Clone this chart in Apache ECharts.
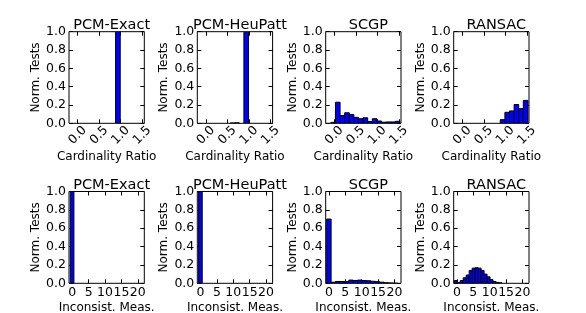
<!DOCTYPE html>
<html><head><meta charset="utf-8">
<script src="https://cdn.jsdelivr.net/npm/echarts@6/dist/echarts.min.js"></script>
<style>html,body{margin:0;padding:0;background:#fff}#c{width:586px;height:313px}</style>
</head><body><div id="c"></div>
<script>
// ---- data ----
const titles = ['PCM-Exact', 'PCM-HeuPatt', 'SCGP', 'RANSAC'];
const topXName = 'Cardinality Ratio';
const botXName = 'Inconsist. Meas.';
const yName = 'Norm. Tests';
const topXTicks = [0.0, 0.5, 1.0, 1.5];
const botXTicks = [0, 5, 10, 15, 20];
const yTicks = [0.0, 0.2, 0.4, 0.6, 0.8, 1.0];
const topXRange = [-0.2, 1.55];
const botXRange = [-1, 22];

// top row bin edges (cardinality ratio)
const topEdges = [-0.08, 0.027, 0.134, 0.241, 0.348, 0.455, 0.562, 0.669, 0.776, 0.883, 0.99, 1.097, 1.204, 1.311, 1.418, 1.525];
const topPcmExact   = [0, 0, 0, 0, 0, 0, 0, 0, 0, 1.0, 0, 0, 0, 0, 0];
const topPcmHeuPatt = [0, 0, 0, 0, 0, 0, 0.003, 0.005, 0, 0.995, 0, 0, 0, 0, 0];
const topScgp       = [0.01, 0.23, 0.085, 0.115, 0.095, 0.065, 0.05, 0.06, 0.02, 0.05, 0.025, 0.012, 0.015, 0.015, 0.022];
const topRansac     = [0, 0, 0, 0, 0, 0, 0, 0, 0, 0.04, 0.12, 0.135, 0.205, 0.16, 0.25];

// bottom row (inconsistency measure)
const botPcmEdges = [-0.6, 0.5];
const botPcmExact = [1.0];
const botPcmHeuPatt = [1.0];
const botScgpEdges = [-0.7, 0.65, 2.0, 3.35, 4.7, 6.05, 7.4, 8.75, 10.1, 11.45, 12.8, 14.15, 15.5, 16.85, 18.2, 19.55, 20.9];
const botScgp = [0.70, 0.012, 0.02, 0.02, 0.018, 0.035, 0.03, 0.035, 0.03, 0.028, 0.022, 0.018, 0.012, 0.006, 0.003, 0.001];
const botRansacEdges = [-0.82, 0.09, 1.0, 1.91, 2.82, 3.73, 4.64, 5.55, 6.46, 7.37, 8.28, 9.19, 10.1, 11.01, 11.92, 12.83, 13.74];
const botRansac = [0.03, 0.01, 0.03, 0.06, 0.09, 0.14, 0.165, 0.17, 0.165, 0.14, 0.10, 0.07, 0.04, 0.02, 0.01, 0.005];

const panels = [
  {edges: topEdges, vals: topPcmExact, row: 0},
  {edges: topEdges, vals: topPcmHeuPatt, row: 0},
  {edges: topEdges, vals: topScgp, row: 0},
  {edges: topEdges, vals: topRansac, row: 0},
  {edges: botPcmEdges, vals: botPcmExact, row: 1},
  {edges: botPcmEdges, vals: botPcmHeuPatt, row: 1},
  {edges: botScgpEdges, vals: botScgp, row: 1},
  {edges: botRansacEdges, vals: botRansac, row: 1}
];

// ---- layout ----
const FONT = 'DejaVu Sans';
const lefts = [69, 197.3, 325.7, 453.7];
const W = 75.3;
const tops = [31.7, 191.5];
const H = [91.6, 91.8];
const titleTops = [12.5, 172.5];

const grid = [], xAxis = [], yAxis = [], series = [], title = [];
panels.forEach((p, i) => {
  const col = i % 4, row = p.row;
  grid.push({left: lefts[col], top: tops[row], width: W, height: H[row],
    show: true, borderColor: '#000', borderWidth: 1, backgroundColor: 'transparent',
    containLabel: false, outerBoundsMode: 'none'});
  title.push({text: titles[col], left: lefts[col] + W / 2, top: titleTops[row], textAlign: 'center',
    textStyle: {fontFamily: FONT, fontSize: 14.5, fontWeight: 'normal', color: '#000'}});
  const range = row === 0 ? topXRange : botXRange;
  const ticks = row === 0 ? topXTicks : botXTicks;
  const tickStyle = {show: true, inside: true, length: 4, lineStyle: {color: '#000', width: 1}, customValues: ticks};
  const noLine = {show: false, onZero: false};
  xAxis.push({type: 'value', gridIndex: i, min: range[0], max: range[1], position: 'bottom',
    axisLine: noLine, splitLine: {show: false},
    axisTick: tickStyle,
    axisLabel: row === 0 ? {customValues: ticks, rotate: 45, align: 'center', verticalAlign: 'middle', margin: 12,
        formatter: v => v.toFixed(1), fontFamily: FONT, fontSize: 12.5, color: '#000'}
      : {customValues: ticks, margin: 3, formatter: v => String(v), fontFamily: FONT, fontSize: 12.5, color: '#000'},
    name: row === 0 ? topXName : botXName, nameLocation: 'middle', nameGap: row === 0 ? 28 : 19,
    nameMoveOverlap: false,
    nameTextStyle: {fontFamily: FONT, fontSize: 12, color: '#000'}});
  xAxis.push({type: 'value', gridIndex: i, min: range[0], max: range[1], position: 'top',
    axisLine: noLine, splitLine: {show: false}, axisLabel: {show: false, customValues: ticks},
    axisTick: tickStyle});
  const yTickStyle = {show: true, inside: true, length: 4, lineStyle: {color: '#000', width: 1}, customValues: yTicks};
  yAxis.push({type: 'value', gridIndex: i, min: 0, max: 1, position: 'left',
    axisLine: noLine, splitLine: {show: false}, axisTick: yTickStyle,
    axisLabel: {customValues: yTicks, margin: 3, formatter: v => v.toFixed(1), fontFamily: FONT, fontSize: 12.5, color: '#000'},
    name: yName, nameLocation: 'middle', nameRotate: 90, nameGap: 27, nameMoveOverlap: false,
    nameTextStyle: {fontFamily: FONT, fontSize: 12, color: '#000'}});
  yAxis.push({type: 'value', gridIndex: i, min: 0, max: 1, position: 'right',
    axisLine: noLine, splitLine: {show: false}, axisLabel: {show: false, customValues: yTicks}, axisTick: yTickStyle});
  const data = p.vals.map((v, k) => [p.edges[k], p.edges[k + 1], v]).filter(d => d[2] > 0);
  series.push({type: 'custom', xAxisIndex: 2 * i, yAxisIndex: 2 * i, clip: true,
    encode: {x: [0, 1], y: 2},
    data: data,
    renderItem: (params, api) => {
      const a = api.coord([api.value(0), api.value(2)]);
      const b = api.coord([api.value(1), 0]);
      return {type: 'rect', shape: {x: a[0], y: a[1], width: b[0] - a[0], height: b[1] - a[1]},
        style: {fill: '#0000ff', stroke: '#000', lineWidth: 1}};
    }});
});

const chart = echarts.init(document.getElementById('c'), null, {renderer: 'canvas'});
chart.setOption({animation: false, backgroundColor: '#fff', title, grid, xAxis, yAxis, series});
</script></body></html>
